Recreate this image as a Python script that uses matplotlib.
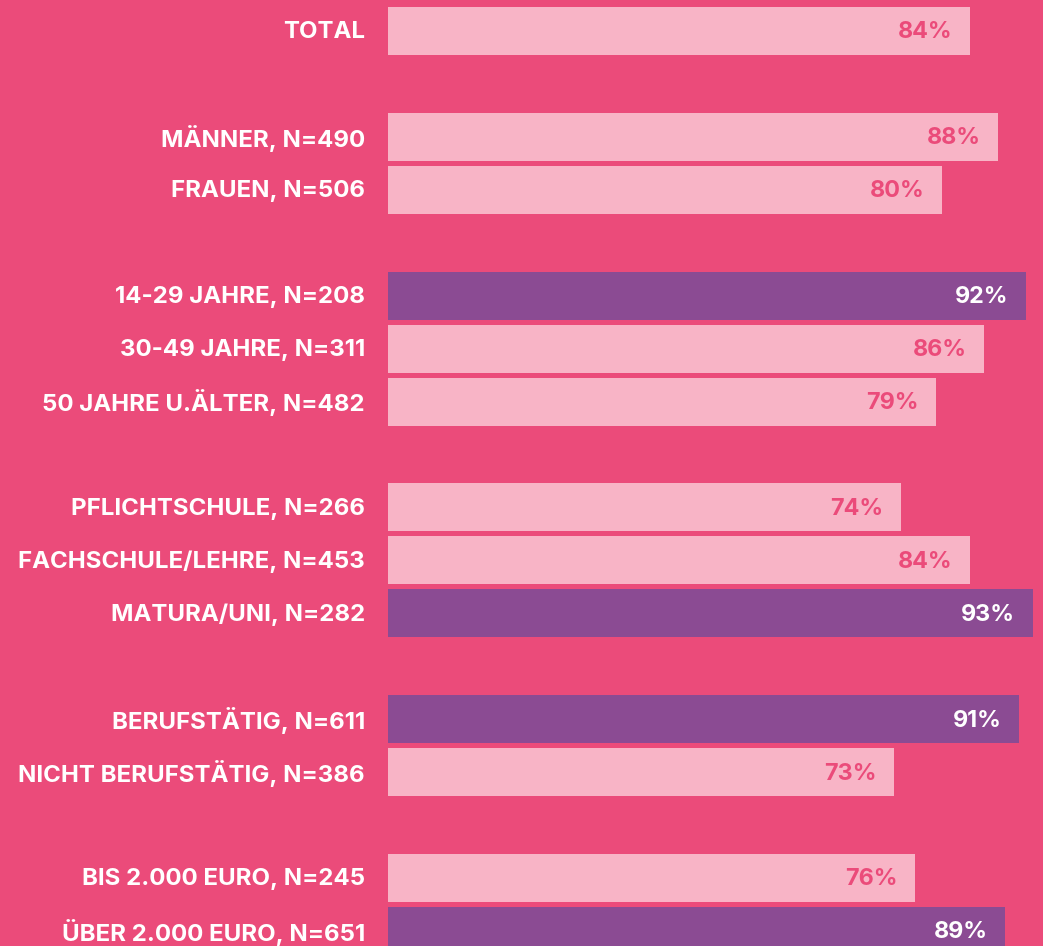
import matplotlib
matplotlib.use("Agg")
import matplotlib.pyplot as plt

categories = ["TOTAL", "MÄNNER, N=490", "FRAUEN, N=506", "14-29 JAHRE, N=208",
              "30-49 JAHRE, N=311", "50 JAHRE U.ÄLTER, N=482", "PFLICHTSCHULE, N=266",
              "FACHSCHULE/LEHRE, N=453", "MATURA/UNI, N=282", "BERUFSTÄTIG, N=611",
              "NICHT BERUFSTÄTIG, N=386", "BIS 2.000 EURO, N=245", "ÜBER 2.000 EURO, N=651"]
values = [84, 88, 80, 92, 86, 79, 74, 84, 93, 91, 73, 76, 89]
highlight = [False, False, False, True, False, False, False, False, True, True, False, False, True]
rows = [0, 2, 3, 5, 6, 7, 9, 10, 11, 13, 14, 16, 17]

BG = "#EB4B7A"
LIGHT = "#F8B4C6"
PURPLE = "#8B4B93"

fig = plt.figure(figsize=(10.43, 9.46), dpi=100, facecolor=BG)
ax = fig.add_axes([388 / 1043, 0, 1 - 388 / 1043, 1])
ax.set_facecolor(BG)

row_px = 52.94
ax.set_xlim(0, (1043 - 388) / 6.931)
ax.set_ylim(17 + 15 / row_px, -31 / row_px)

colors = [PURPLE if h else LIGHT for h in highlight]
ax.barh(rows, values, height=48 / row_px, color=colors, left=0)

for r, v, c, h in zip(rows, values, categories, highlight):
    ax.annotate(c, xy=(0, r), xytext=(-16.5, -1), textcoords="offset points",
                ha="right", va="center", color="white", fontsize=17.3,
                fontweight="bold", family="Inter")
    ax.annotate(f"{v}%", xy=(v, r), xytext=(-12.5, -1), textcoords="offset points",
                ha="right", va="center", color="white" if h else BG,
                fontsize=16.8, fontweight="bold", family="Inter")

ax.axis("off")
fig.savefig("out.png", dpi=100, facecolor=BG)
